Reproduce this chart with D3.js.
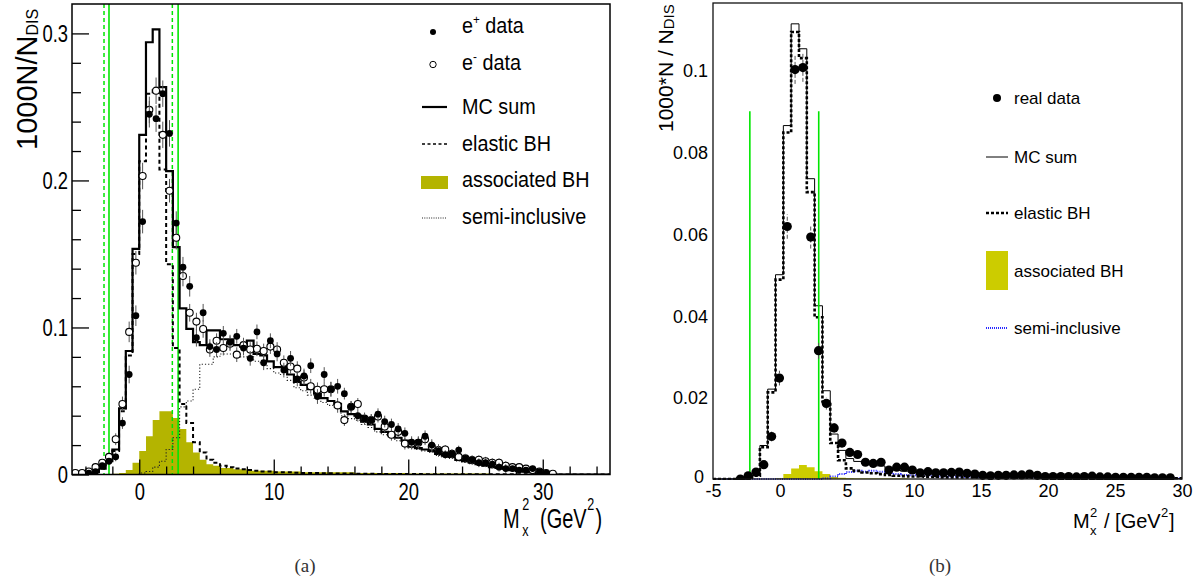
<!DOCTYPE html>
<html><head><meta charset="utf-8">
<script src="https://cdn.jsdelivr.net/npm/d3@7"></script>
<style>body{margin:0;background:#fff;} svg{display:block;}</style>
</head><body>
<svg id="c" width="1196" height="579"></svg>
<script>
// ---------------- Panel (a) data : 0.5 GeV^2 bins from -5 to 35 ----------------
const edgesA = [-5,-4.5,-4,-3.5,-3,-2.5,-2,-1.5,-1,-0.5,0,0.5,1,1.5,2,2.5,3,3.5,4,4.5,5,5.5,6,6.5,7,7.5,8,8.5,9,9.5,10,10.5,11,11.5,12,12.5,13,13.5,14,14.5,15,15.5,16,16.5,17,17.5,18,18.5,19,19.5,20,20.5,21,21.5,22,22.5,23,23.5,24,24.5,25,25.5,26,26.5,27,27.5,28,28.5,29,29.5,30,30.5,31,31.5,32,32.5,33,33.5,34,34.5,35];
const mcSumA = [0,0,0.001,0.002,0.004,0.009,0.017,0.045,0.084,0.1535,
  0.231,0.294,0.3027,0.2635,0.2063,0.1547,0.113,0.099,0.090,0.088,
  0.098,0.098,0.092,0.092,0.088,0.087,0.091,0.082,0.081,0.077,
  0.073,0.073,0.068,0.063,0.061,0.058,0.055,0.052,0.050,0.048,
  0.043,0.041,0.040,0.036,0.034,0.031,0.029,0.027,0.025,0.023,
  0.019,0.018,0.017,0.016,0.014,0.013,0.012,0.010,0.009,0.008,
  0.007,0.006,0.005,0.0045,0.004,0.003,0.0025,0.002,0.0015,0.001,
  0.0008,0.0005,0,0,0,0,0,0,0,0];
const elasticA = [0,0,0.0005,0.0015,0.004,0.009,0.016,0.043,0.081,0.150,
  0.213,0.259,0.263,0.2075,0.143,0.086,0.048,0.035,0.022,0.015,
  0.010,0.008,0.006,0.005,0.004,0.0035,0.003,0.0025,0.002,0.002,
  0.0015,0.0015,0.0015,0.0012,0.001,0.001,0.001,0.0008,0.0008,0.0007,
  0.0006,0.0006,0.0005,0.0005,0.0005,0.0004,0.0004,0.0004,0.0003,0.0003,
  0.0003,0.0003,0.0002,0.0002,0.0002,0.0002,0.0002,0.0001,0.0001,0.0001,
  0.0001,0.0001,0.0001,0.0001,0.0001,0.0001,0.0001,0.0001,0.0001,0.0001,
  0.0001,0.0001,0,0,0,0,0,0,0,0];
const assocA = [0,0,0,0,0,0,0.0005,0.001,0.003,0.008,
  0.016,0.026,0.037,0.043,0.043,0.0385,0.031,0.022,0.015,0.010,
  0.007,0.006,0.0045,0.0045,0.0035,0.0035,0.0025,0.0025,0.0025,0.0025,
  0.002,0.002,0.002,0.002,0.0015,0.0015,0.0015,0.0015,0.0015,0.0015,
  0.0015,0.0015,0.001,0.001,0.001,0.001,0.001,0.001,0.001,0.001,
  0.0007,0.0007,0.0007,0.0007,0.0007,0.0007,0.0007,0.0007,0.0007,0.0007,
  0.0007,0.0007,0.0004,0.0004,0.0004,0.0004,0.0004,0.0004,0.0004,0.0004,
  0.0002,0.0002,0.0002,0.0002,0.0002,0.0002,0.0002,0.0002,0.0002,0.0002];
const sidisA = [0,0,0,0,0,0,0,0,0,0,
  0.001,0.002,0.005,0.009,0.017,0.025,0.046,0.050,0.058,0.075,
  0.075,0.080,0.082,0.082,0.083,0.080,0.080,0.077,0.075,0.072,
  0.069,0.068,0.064,0.059,0.057,0.054,0.052,0.049,0.047,0.045,
  0.040,0.038,0.037,0.034,0.032,0.029,0.027,0.025,0.023,0.021,
  0.018,0.017,0.016,0.015,0.013,0.012,0.011,0.0093,0.0083,0.0073,
  0.0065,0.0055,0.0046,0.0041,0.0036,0.0027,0.0022,0.0017,0.0013,0.0008,
  0.0006,0.0003,0,0,0,0,0,0,0,0];
const ePosA = [null,null,0.001,0.002,0.006,0.009,0.012,0.035,0.068,0.108,
  0.172,0.245,0.242,0.259,0.232,0.171,0.141,0.128,0.093,0.110,
  0.087,0.085,0.096,0.090,0.094,0.086,0.079,0.097,0.076,0.091,
  0.082,0.071,0.079,0.065,0.067,0.074,0.053,0.068,0.058,0.060,
  0.055,0.046,0.040,0.038,0.037,0.041,0.036,0.034,0.031,0.028,
  0.022,0.022,0.026,0.020,0.016,0.0135,0.014,0.0166,0.011,0.010,
  0.008,0.008,0.007,0.005,0.004,0.004,0.003,0.003,0.004,0.002,
  0.001,null,null,null,null,null,null,null,null,null];
const ePosErrA = [0,0,0.001,0.001,0.002,0.002,0.003,0.004,0.006,0.007,
  0.008,0.009,0.009,0.009,0.009,0.008,0.007,0.007,0.006,0.006,
  0.005,0.005,0.005,0.005,0.005,0.005,0.005,0.005,0.005,0.005,
  0.005,0.005,0.005,0.005,0.005,0.005,0.005,0.005,0.005,0.005,
  0.004,0.004,0.004,0.004,0.004,0.004,0.004,0.004,0.004,0.004,
  0.004,0.004,0.004,0.004,0.004,0.003,0.003,0.003,0.003,0.003,
  0.003,0.003,0.003,0.003,0.003,0.002,0.002,0.002,0.002,0.002,
  0.001,0,0,0,0,0,0,0,0,0];
const eNegA = [0.001,0.001,0.002,0.005,0.008,0.012,0.024,0.048,0.097,0.144,
  0.203,0.248,0.261,0.231,0.193,0.161,0.135,0.110,0.104,0.099,
  0.085,0.091,0.086,0.089,0.0815,0.088,0.085,0.0855,0.084,0.087,
  0.085,0.076,0.0735,0.072,0.066,0.060,0.0576,0.058,0.058,0.047,
  0.037,0.046,0.048,0.038,0.037,0.0394,0.0326,0.027,0.029,0.021,
  0.021,0.0216,0.024,0.019,0.0166,0.017,0.014,0.012,0.011,0.0098,
  0.010,0.009,0.008,0.008,0.006,0.005,0.005,0.004,0.003,0.002,
  0.001,0.0005,null,null,null,null,null,null,null,null];
const eNegErrA = [0.001,0.001,0.001,0.002,0.002,0.003,0.004,0.005,0.007,0.008,
  0.009,0.009,0.009,0.009,0.008,0.008,0.007,0.006,0.006,0.006,
  0.005,0.005,0.005,0.005,0.005,0.005,0.005,0.005,0.005,0.005,
  0.005,0.005,0.005,0.005,0.005,0.005,0.005,0.005,0.005,0.005,
  0.004,0.004,0.004,0.004,0.004,0.004,0.004,0.004,0.004,0.004,
  0.004,0.004,0.004,0.004,0.004,0.003,0.003,0.003,0.003,0.003,
  0.003,0.003,0.003,0.003,0.003,0.002,0.002,0.002,0.002,0.002,
  0.001,0.001,0,0,0,0,0,0,0,0];
const cutSolidA = [-2.25, 2.89];
const cutDashedA = [-2.62, 2.46];
const yTicksA = [0, 0.1, 0.2, 0.3];
const yTickLabelsA = ["0", "0.1", "0.2", "0.3"];
const xTicksA = [0, 10, 20, 30];
const xTickLabelsA = ["0", "10", "20", "30"];
const legendA = ["e+ data", "e- data", "MC sum", "elastic BH", "associated BH", "semi-inclusive"];

// ---------------- Panel (b) data : 60 bins from -5 to 30 ----------------
const edgesB = [-5,-4.417,-3.833,-3.25,-2.667,-2.083,-1.5,-0.917,-0.333,0.25,0.833,1.417,2,2.583,3.167,3.75,4.333,4.917,5.5,6.083,6.667,7.25,7.833,8.417,9,9.583,10.167,10.75,11.333,11.917,12.5,13.083,13.667,14.25,14.833,15.417,16,16.583,17.167,17.75,18.333,18.917,19.5,20.083,20.667,21.25,21.833,22.417,23,23.583,24.167,24.75,25.333,25.917,26.5,27.083,27.667,28.25,28.833,29.417,30];
const dataB = [null,null,null,0.0000,0.0008,0.0017,0.0035,0.0104,0.0247,0.0618,
  0.1002,0.1007,0.0592,0.0314,0.0185,0.0125,0.0088,0.0065,0.0060,0.0041,
  0.0038,0.0041,0.0022,0.0029,0.0029,0.0022,0.0015,0.0018,0.0015,0.0015,
  0.0016,0.0017,0.0014,0.0012,0.0009,0.0008,0.0009,0.0009,0.0010,0.0010,
  0.0012,0.0009,0.0006,0.0006,0.0006,0.0006,0.0005,0.0006,0.0007,0.0005,
  0.0005,0.0004,0.0004,0.0004,0.0004,0.0004,0.0003,0.0003,0.0003,null];
const errB = [0,0,0,0.0002,0.0003,0.0005,0.0008,0.0012,0.0018,0.0030,
  0.0035,0.0035,0.0028,0.0020,0.0015,0.0012,0.0010,0.0008,0.0008,0.0007,
  0.0006,0.0006,0.0006,0.0006,0.0006,0.0005,0.0005,0.0005,0.0005,0.0005,
  0.0004,0.0004,0.0004,0.0004,0.0004,0.0004,0.0004,0.0004,0.0004,0.0004,
  0.0003,0.0003,0.0003,0.0003,0.0003,0.0003,0.0003,0.0003,0.0003,0.0003,
  0.0003,0.0003,0.0003,0.0003,0.0003,0.0003,0.0003,0.0003,0.0003,0.0003];
const mcSumB = [0,0,0,0.0001,0.0003,0.0008,0.0082,0.022,0.050,0.0865,
  0.1114,0.1053,0.0735,0.0424,0.0216,0.0110,0.0070,0.0050,0.0043,0.0038,
  0.0036,0.0032,0.0026,0.0022,0.0019,0.0016,0.0014,0.0013,0.0012,0.0011,
  0.0010,0.0009,0.0008,0.0008,0.0007,0.0007,0.0006,0.0006,0.0006,0.0005,
  0.0005,0.0005,0.0004,0.0004,0.0004,0.0004,0.0003,0.0003,0.0003,0.0003,
  0.0003,0.0002,0.0002,0.0002,0.0002,0.0002,0.0002,0.0001,0.0001,0.0001];
const elasticB = [0,0,0,0.0001,0.0003,0.0008,0.0078,0.0212,0.0488,0.0848,
  0.1094,0.1030,0.0702,0.0396,0.0190,0.0088,0.0046,0.0026,0.0020,0.0016,
  0.0014,0.0012,0.0010,0.0008,0.0007,0.0006,0.0006,0.0005,0.0005,0.0004,
  0.0004,0.0004,0.0004,0.0004,0.0004,0.0004,0.0003,0.0003,0.0003,0.0003,
  0.0003,0.0003,0.0003,0.0003,0.0003,0.0003,0.0002,0.0002,0.0002,0.0002,
  0.0002,0.0002,0.0002,0.0002,0.0002,0.0002,0.0002,0.0002,0.0002,0.0002];
const assocB = [0,0,0,0,0,0,0,0,0.0002,0.0012,
  0.0026,0.0034,0.0029,0.0019,0.0012,0.0005,0.0003,0.0002,0.0001,0.0001,
  0.0001,0.0001,0.0001,0.0001,0.0001,0,0,0,0,0,
  0,0,0,0,0,0,0,0,0,0,
  0,0,0,0,0,0,0,0,0,0,
  0,0,0,0,0,0,0,0,0,0];
const sidisB = [0,0,0,0,0,0,0,0,0,0,
  0,0,0,0,0.0002,0.0006,0.0012,0.0017,0.0020,0.0018,
  0.0020,0.0018,0.0014,0.0012,0.0010,0.0009,0.0008,0.0008,0.0007,0.0007,
  0.0006,0.0006,0.0005,0.0005,0.0005,0.0005,0.0004,0.0004,0.0004,0.0004,
  0.0004,0.0003,0.0003,0.0003,0.0003,0.0003,0.0003,0.0003,0.0003,0.0003,
  0.0003,0.0002,0.0002,0.0002,0.0002,0.0002,0.0002,0.0002,0.0002,0.0002];
const cutB = [-2.25, 2.89];
const cutTopB = 0.09;
const yTicksB = [0, 0.02, 0.04, 0.06, 0.08, 0.1];
const yTickLabelsB = ["0", "0.02", "0.04", "0.06", "0.08", "0.1"];
const xTicksB = [-5, 0, 5, 10, 15, 20, 25, 30];
const xTickLabelsB = ["-5", "0", "5", "10", "15", "20", "25", "30"];
const legendB = ["real data", "MC sum", "elastic BH", "associated BH", "semi-inclusive"];

// ---------------- drawing ----------------
const svg = d3.select("#c");
const SANS = "'Liberation Sans', Arial, Helvetica, sans-serif";
const SERIF = "'Liberation Serif', 'DejaVu Serif', serif";
const OLIVE_A = "#b4b400", YEL_B = "#cccc00", GREEN = "#00e600";

function stepPoints(edges, vals) {
  const pts = [];
  vals.forEach((v, i) => { pts.push([edges[i], v]); pts.push([edges[i + 1], v]); });
  return pts;
}
function mids(edges) { return edges.slice(0, -1).map((e, i) => (e + edges[i + 1]) / 2); }

// ====== Panel (a) ======
const xA = d3.scaleLinear().domain([-5, 35]).range([72, 610]);
const yA = d3.scaleLinear().domain([0, 0.32]).range([474.5, 4]);
const gA = svg.append("g");
gA.append("clipPath").attr("id", "clipA").append("rect")
  .attr("x", 72).attr("y", 4).attr("width", 538).attr("height", 470.5);
const pA = gA.append("g").attr("clip-path", "url(#clipA)");
const lineA = d3.line().x(d => xA(d[0])).y(d => yA(d[1]));
const areaA = d3.area().x(d => xA(d[0])).y0(yA(0)).y1(d => yA(d[1]));

pA.append("path").attr("d", areaA(stepPoints(edgesA, assocA))).attr("fill", OLIVE_A).attr("stroke", "none");
cutDashedA.forEach(c => pA.append("line").attr("x1", xA(c)).attr("x2", xA(c)).attr("y1", 4).attr("y2", 474.5)
  .attr("stroke", GREEN).attr("stroke-width", 1.5).attr("stroke-dasharray", "4,3"));
cutSolidA.forEach(c => pA.append("line").attr("x1", xA(c)).attr("x2", xA(c)).attr("y1", 4).attr("y2", 474.5)
  .attr("stroke", GREEN).attr("stroke-width", 1.6));
pA.append("path").attr("d", lineA(stepPoints(edgesA, sidisA))).attr("fill", "none")
  .attr("stroke", "#222").attr("stroke-width", 1.1).attr("stroke-dasharray", "1.2,2");
pA.append("path").attr("d", lineA(stepPoints(edgesA, elasticA))).attr("fill", "none")
  .attr("stroke", "#000").attr("stroke-width", 2).attr("stroke-dasharray", "4,3");
pA.append("path").attr("d", lineA(stepPoints(edgesA, mcSumA))).attr("fill", "none")
  .attr("stroke", "#000").attr("stroke-width", 2.2);

const cA = mids(edgesA);
cA.forEach((c, i) => {
  const v = eNegA[i]; if (v === null) return;
  pA.append("line").attr("x1", xA(c)).attr("x2", xA(c)).attr("y1", yA(v - eNegErrA[i])).attr("y2", yA(v + eNegErrA[i]))
    .attr("stroke", "#555").attr("stroke-width", 1);
});
cA.forEach((c, i) => {
  const v = eNegA[i]; if (v === null) return;
  pA.append("circle").attr("cx", xA(c)).attr("cy", yA(v)).attr("r", 3.5)
    .attr("fill", "#fff").attr("stroke", "#000").attr("stroke-width", 1.1);
});
cA.forEach((c, i) => {
  const v = ePosA[i]; if (v === null) return;
  pA.append("line").attr("x1", xA(c)).attr("x2", xA(c)).attr("y1", yA(v - ePosErrA[i])).attr("y2", yA(v + ePosErrA[i]))
    .attr("stroke", "#555").attr("stroke-width", 1);
});
cA.forEach((c, i) => {
  const v = ePosA[i]; if (v === null) return;
  pA.append("circle").attr("cx", xA(c)).attr("cy", yA(v)).attr("r", 3.4).attr("fill", "#000");
});

gA.append("rect").attr("x", 72).attr("y", 4).attr("width", 538).attr("height", 470.5)
  .attr("fill", "none").attr("stroke", "#000").attr("stroke-width", 1.5);

const SXA = 0.8;
const yAxA = gA.append("g").attr("transform", "translate(72,0)")
  .call(d3.axisLeft(yA).tickValues(yTicksA).tickSize(-17).tickFormat((d, i) => yTickLabelsA[i]));
const yAxAm = gA.append("g").attr("transform", "translate(72,0)")
  .call(d3.axisLeft(yA).tickValues(d3.range(0.02, 0.32, 0.02).filter(v => Math.abs(v * 10 - Math.round(v * 10)) > 1e-6)).tickSize(-9).tickFormat(""));
const xAxA = gA.append("g").attr("transform", "translate(0,474.5)")
  .call(d3.axisBottom(xA).tickValues(xTicksA).tickSize(-15).tickFormat((d, i) => xTickLabelsA[i]));
const xAxAm = gA.append("g").attr("transform", "translate(0,474.5)")
  .call(d3.axisBottom(xA).tickValues(d3.range(-4, 35, 2).filter(v => v % 10 !== 0)).tickSize(-8).tickFormat(""));
[yAxA, yAxAm, xAxA, xAxAm].forEach(a => { a.select(".domain").remove(); a.selectAll("line").attr("stroke", "#000").attr("stroke-width", 1.3); });
yAxA.selectAll("text").attr("font-family", SANS).attr("font-size", 23).attr("fill", "#000")
  .attr("text-anchor", "end").attr("x", -4 / SXA).attr("dy", "0.36em").attr("transform", `scale(${SXA},1)`);
xAxA.selectAll("text").attr("font-family", SANS).attr("font-size", 23).attr("fill", "#000")
  .attr("y", 25.5).attr("dy", 0).attr("transform", `scale(${SXA},1)`);

const ytA = gA.append("text").attr("transform", "translate(37,150) rotate(-90)")
  .attr("font-family", SANS).attr("font-size", 29).attr("fill", "#000");
ytA.append("tspan").text("1000N/N");
ytA.append("tspan").attr("font-size", 16).attr("dy", 1).text("DIS");

const xtA = gA.append("g").attr("transform", "translate(503,528) scale(0.74,1)")
  .attr("font-family", SANS).attr("fill", "#000");
xtA.append("text").attr("font-size", 27).text("M");
xtA.append("text").attr("x", 26).attr("y", -18).attr("font-size", 17).text("2");
xtA.append("text").attr("x", 26).attr("y", 8).attr("font-size", 17).text("x");
xtA.append("text").attr("x", 50).attr("font-size", 27).text("(GeV");
xtA.append("text").attr("x", 114).attr("y", -18).attr("font-size", 17).text("2");
xtA.append("text").attr("x", 125).attr("font-size", 27).text(")");

const lgA = gA.append("g");
const lgYA = [33, 69.5, 114, 150.5, 187, 224];
const SXL = 0.9;
function legTextA(i, parts) {
  const t = lgA.append("text").attr("transform", `translate(462,${lgYA[i]}) scale(${SXL},1)`)
    .attr("font-family", SANS).attr("font-size", 22).attr("fill", "#000");
  parts.forEach(p => {
    const s = t.append("tspan").text(p.t);
    if (p.sup) s.attr("font-size", 13).attr("dy", -9);
    if (p.back) s.attr("dy", 9);
  });
}
legTextA(0, [{t: "e"}, {t: "+", sup: true}, {t: " data", back: true}]);
legTextA(1, [{t: "e"}, {t: "-", sup: true}, {t: " data", back: true}]);
legTextA(2, [{t: legendA[2]}]);
legTextA(3, [{t: legendA[3]}]);
legTextA(4, [{t: legendA[4]}]);
legTextA(5, [{t: legendA[5]}]);
lgA.append("circle").attr("cx", 433).attr("cy", 32).attr("r", 3).attr("fill", "#000");
lgA.append("circle").attr("cx", 433).attr("cy", 64.5).attr("r", 3.2).attr("fill", "#fff").attr("stroke", "#000").attr("stroke-width", 1);
lgA.append("line").attr("x1", 422).attr("x2", 447).attr("y1", 107).attr("y2", 107).attr("stroke", "#000").attr("stroke-width", 2.2);
lgA.append("line").attr("x1", 422).attr("x2", 447).attr("y1", 144).attr("y2", 144).attr("stroke", "#000").attr("stroke-width", 1.6).attr("stroke-dasharray", "3,2.5");
lgA.append("rect").attr("x", 421).attr("y", 176).attr("width", 27).attr("height", 13).attr("fill", OLIVE_A);
lgA.append("line").attr("x1", 422).attr("x2", 447).attr("y1", 218).attr("y2", 218).attr("stroke", "#222").attr("stroke-width", 1).attr("stroke-dasharray", "1,1.3");

svg.append("text").attr("x", 305).attr("y", 572).attr("text-anchor", "middle")
  .attr("font-family", SERIF).attr("font-size", 19).attr("fill", "#333").text("(a)");

// ====== Panel (b) ======
const xB = d3.scaleLinear().domain([-5, 30]).range([713, 1182]);
const yB = d3.scaleLinear().domain([0, 0.1165]).range([479, 3]);
const gB = svg.append("g");
gB.append("clipPath").attr("id", "clipB").append("rect")
  .attr("x", 713).attr("y", 3).attr("width", 469).attr("height", 477);
const pB = gB.append("g").attr("clip-path", "url(#clipB)");
const lineB = d3.line().x(d => xB(d[0])).y(d => yB(d[1]));
const areaB = d3.area().x(d => xB(d[0])).y0(yB(0)).y1(d => yB(d[1]));

pB.append("path").attr("d", areaB(stepPoints(edgesB, assocB))).attr("fill", YEL_B).attr("stroke", "none");
pB.append("path").attr("d", lineB(stepPoints(edgesB, sidisB))).attr("fill", "none")
  .attr("stroke", "#2a2aff").attr("stroke-width", 2).attr("stroke-dasharray", "1,1.3");
pB.append("path").attr("d", lineB(stepPoints(edgesB, mcSumB))).attr("fill", "none")
  .attr("stroke", "#000").attr("stroke-width", 1);
pB.append("path").attr("d", lineB(stepPoints(edgesB, elasticB))).attr("fill", "none")
  .attr("stroke", "#000").attr("stroke-width", 2.6).attr("stroke-dasharray", "3,2");
cutB.forEach(c => pB.append("line").attr("x1", xB(c)).attr("x2", xB(c)).attr("y1", yB(0)).attr("y2", yB(cutTopB))
  .attr("stroke", GREEN).attr("stroke-width", 1.6));
const cB = mids(edgesB);
cB.forEach((c, i) => {
  const v = dataB[i]; if (v === null) return;
  pB.append("line").attr("x1", xB(c)).attr("x2", xB(c)).attr("y1", yB(v - errB[i])).attr("y2", yB(v + errB[i]))
    .attr("stroke", "#555").attr("stroke-width", 1).attr("stroke-dasharray", "4,2");
});
cB.forEach((c, i) => {
  const v = dataB[i]; if (v === null) return;
  pB.append("circle").attr("cx", xB(c)).attr("cy", yB(v)).attr("r", 4.6).attr("fill", "#000");
});
gB.append("rect").attr("x", 713).attr("y", 3).attr("width", 469).attr("height", 476)
  .attr("fill", "none").attr("stroke", "#111").attr("stroke-width", 1.3);

const yAxB = gB.append("g").attr("transform", "translate(713,0)")
  .call(d3.axisLeft(yB).tickValues(yTicksB).tickSize(0).tickPadding(5).tickFormat((d, i) => yTickLabelsB[i]));
const xAxB = gB.append("g").attr("transform", "translate(0,479)")
  .call(d3.axisBottom(xB).tickValues(xTicksB).tickSize(0).tickFormat((d, i) => xTickLabelsB[i]));
[yAxB, xAxB].forEach(a => a.select(".domain").remove());
yAxB.selectAll("text").attr("font-family", SANS).attr("font-size", 18).attr("fill", "#000").attr("dy", "0.36em");
yAxB.selectAll("text").filter((d, i) => i === 0).attr("x", -9).attr("dy", "0.2em");
xAxB.selectAll("text").attr("font-family", SANS).attr("font-size", 18).attr("fill", "#000").attr("y", 18).attr("dy", 0);

const ytB = gB.append("text").attr("transform", "translate(673,132) rotate(-90)")
  .attr("font-family", SANS).attr("font-size", 21).attr("fill", "#000");
ytB.append("tspan").text("1000*N / N");
ytB.append("tspan").attr("font-size", 15).attr("dy", 1).text("DIS");

const xtB = gB.append("g").attr("font-family", SANS).attr("fill", "#000");
xtB.append("text").attr("x", 1073).attr("y", 528).attr("font-size", 20).text("M");
xtB.append("text").attr("x", 1090).attr("y", 517).attr("font-size", 13).text("2");
xtB.append("text").attr("x", 1090).attr("y", 535).attr("font-size", 13).text("x");
xtB.append("text").attr("x", 1104).attr("y", 528).attr("font-size", 20).text("/ [GeV");
xtB.append("text").attr("x", 1161).attr("y", 517).attr("font-size", 13).text("2");
xtB.append("text").attr("x", 1169).attr("y", 528).attr("font-size", 20).text("]");

const lgB = gB.append("g").attr("font-family", SANS).attr("font-size", 17).attr("fill", "#000");
const lgYB = [104, 163, 219, 277, 334];
legendB.forEach((s, i) => lgB.append("text").attr("x", 1014).attr("y", lgYB[i]).text(s));
lgB.append("circle").attr("cx", 997).attr("cy", 98).attr("r", 4).attr("fill", "#000");
lgB.append("line").attr("x1", 986).attr("x2", 1008).attr("y1", 157).attr("y2", 157).attr("stroke", "#000").attr("stroke-width", 1);
lgB.append("line").attr("x1", 986).attr("x2", 1008).attr("y1", 213).attr("y2", 213).attr("stroke", "#000").attr("stroke-width", 2.4).attr("stroke-dasharray", "3,2");
lgB.append("rect").attr("x", 986).attr("y", 251).attr("width", 22).attr("height", 39).attr("fill", YEL_B);
lgB.append("line").attr("x1", 986).attr("x2", 1008).attr("y1", 328).attr("y2", 328).attr("stroke", "#2a2aff").attr("stroke-width", 2).attr("stroke-dasharray", "1,1");

svg.append("text").attr("x", 940).attr("y", 572).attr("text-anchor", "middle")
  .attr("font-family", SERIF).attr("font-size", 19).attr("fill", "#333").text("(b)");
</script></body></html>
